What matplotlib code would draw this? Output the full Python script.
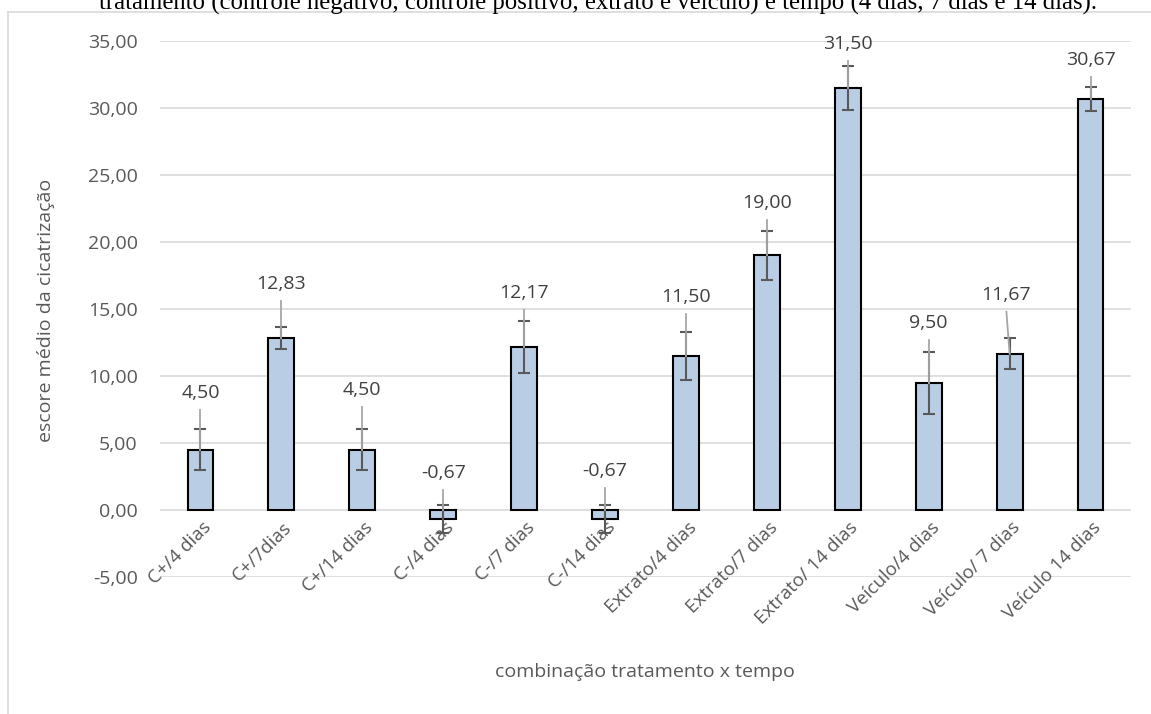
import matplotlib
matplotlib.use("Agg")
import matplotlib.pyplot as plt
import numpy as np
from matplotlib.ticker import FuncFormatter

categories = ["C+/4 dias", "C+/7dias", "C+/14 dias", "C-/4 dias", "C-/7 dias", "C-/14 dias",
              "Extrato/4 dias", "Extrato/7 dias", "Extrato/ 14 dias", "Veículo/4 dias",
              "Veículo/ 7 dias", "Veículo 14 dias"]
values = [4.50, 12.83, 4.50, -0.67, 12.17, -0.67, 11.50, 19.00, 31.50, 9.50, 11.67, 30.67]
errors = [1.55, 0.83, 1.55, 1.05, 1.92, 1.05, 1.81, 1.82, 1.62, 2.32, 1.17, 0.87]
y_ticks = [-5, 0, 5, 10, 15, 20, 25, 30, 35]
caption = "tratamento (controle negativo, controle positivo, extrato e veículo) e tempo (4 dias, 7 dias e 14 dias)."
ylabel = "escore médio da cicatrização"
xlabel = "combinação tratamento x tempo"

# manual label placement (data units), as in the reference
label_y = [8.73, 16.88, 8.94, 2.73, 16.21, 2.93, 15.93, 22.88, 34.75, 13.95, 16.06, 33.56]
label_dx = [0, 0, 0, 0, 0, 0, 0, 0, 0, 0, -0.04, 0]

W, H = 1151, 714
fig = plt.figure(figsize=(W / 100, H / 100), dpi=100)
font = "Open Sans"
txt = "#595959"

# chart border
fig.add_artist(plt.Line2D([8 / W, 8 / W], [0, 1 - 12 / H], color="#d9d9d9", lw=1.2, transform=fig.transFigure))
fig.add_artist(plt.Line2D([8 / W, 1], [1 - 12 / H, 1 - 12 / H], color="#d9d9d9", lw=1.2, transform=fig.transFigure))

# caption (cropped at top)
fig.text(598 / W, 1 - 10 / H, caption, ha="center", va="baseline", fontsize=17.8,
         family="Liberation Serif", color="black")

ax = fig.add_axes([160 / W, 1 - 577 / H, (1131 - 160) / W, (577 - 41) / H])
x = np.arange(len(categories))
ax.set_xlim(-0.5, len(categories) - 0.5)
ax.set_ylim(-5, 35)
ax.set_yticks(y_ticks)
ax.grid(axis="y", color="#d9d9d9", lw=1.2, zorder=0)
ax.set_axisbelow(True)
for s in ax.spines.values():
    s.set_visible(False)

ax.bar(x, values, width=0.32, color="#b9cde5", edgecolor="black", linewidth=1.5, zorder=2)
ax.errorbar(x, values, yerr=errors, fmt="none", ecolor="#595959", elinewidth=1.5,
            capsize=4.5, capthick=1.5, zorder=3)

px = (577 - 41) / 40.0  # pixels per data unit
for i, (v, ly, dx) in enumerate(zip(values, label_y, label_dx)):
    lx = x[i] + dx
    ax.plot([lx, x[i]], [ly - 17 / px, max(v, 0)], color="#a6a6a6", lw=1.3, zorder=4)
    ax.text(lx, ly, f"{v:.2f}".replace(".", ","), ha="center", va="center",
            fontsize=14, family=font, color="#404040", zorder=5)

ax.yaxis.set_major_formatter(FuncFormatter(lambda v, p: f"{v:.2f}".replace(".", ",")))
ax.tick_params(axis="y", length=0, pad=16, labelsize=14, labelcolor=txt)
for t in ax.get_yticklabels():
    t.set_family(font)

ax.set_xticks(x)
ax.set_xticklabels([])
ax.tick_params(axis="x", length=0)
for i, c in enumerate(categories):
    ax.annotate(c, xy=(x[i], 0), xytext=(1, -6), textcoords="offset points",
                rotation=45, ha="right", va="top", rotation_mode="anchor",
                fontsize=13.5, family=font, color=txt, zorder=1)

fig.text(46 / W, 1 - 310 / H, ylabel, rotation=90, ha="center", va="center",
         fontsize=14, family=font, color=txt)
fig.text(645 / W, 1 - 672 / H, xlabel, ha="center", va="center",
         fontsize=14, family=font, color=txt)

fig.savefig("out.png", dpi=100)
